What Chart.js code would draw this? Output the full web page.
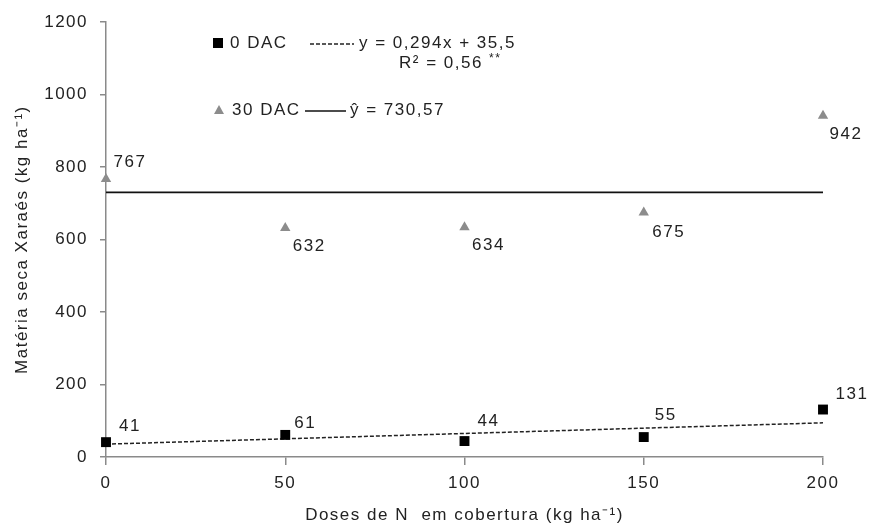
<!DOCTYPE html>
<html>
<head>
<meta charset="utf-8">
<script src="https://cdn.jsdelivr.net/npm/chart.js@4.4.0/dist/chart.umd.min.js"></script>
<style>
  html, body { margin: 0; padding: 0; background: #fff; }
  #wrap { width: 869px; height: 526px; }
</style>
</head>
<body>
<div id="wrap"><canvas id="chart" width="869" height="526"></canvas></div>
<script>
// doses of N (kg/ha)
const doses = [0, 50, 100, 150, 200];
const dac0 = [41, 61, 44, 55, 131];
const dac30 = [767, 632, 634, 675, 942];
// fitted lines, read at the ends of the x range
const trendX = [0, 200];
const trend0 = [35.5, 94.3];
const mean30 = [730.57, 730.57];
const yTicks = [0, 200, 400, 600, 800, 1000, 1200];

const FONT = 'Liberation Sans, Arial, sans-serif';
const TXT = '#222';
const SPACING = '1.5px';

function pts(xs, ys) {
    return xs.map((x, i) => ({ x: x, y: ys[i] }));
}

// label offsets (px) relative to each point
const off0 = [[24, -16], [20, -12], [24, -20], [22, -22], [29, -15]];
const off30 = [[24, -17], [24, 18], [24, 18], [25, 20], [23, 19]];

const spacingPlugin = {
    id: 'spacing',
    beforeLayout(chart) { chart.ctx.letterSpacing = SPACING; },
    beforeDraw(chart) { chart.ctx.letterSpacing = SPACING; }
};

const labelsPlugin = {
    id: 'extras',
    afterDraw(chart) {
        const ctx = chart.ctx;
        const xs = chart.scales.x, ys = chart.scales.y;
        ctx.save();
        ctx.letterSpacing = SPACING;
        ctx.font = '17px ' + FONT;
        ctx.fillStyle = TXT;
        ctx.textBaseline = 'middle';
        ctx.textAlign = 'center';
        doses.forEach((d, i) => {
            const px = xs.getPixelForValue(d);
            ctx.fillText(String(dac0[i]), px + off0[i][0], ys.getPixelForValue(dac0[i]) + off0[i][1]);
            ctx.fillText(String(dac30[i]), px + off30[i][0], ys.getPixelForValue(dac30[i]) + off30[i][1]);
        });

        // legend block
        ctx.textAlign = 'left';
        ctx.fillStyle = '#000';
        ctx.fillRect(213, 38, 10, 10);
        ctx.fillStyle = TXT;
        ctx.fillText('0 DAC', 230, 43);
        ctx.strokeStyle = '#222';
        ctx.lineWidth = 1.5;
        ctx.setLineDash([4, 2]);
        ctx.beginPath(); ctx.moveTo(310, 44); ctx.lineTo(354, 44); ctx.stroke();
        ctx.setLineDash([]);
        ctx.fillText('y = 0,294x + 35,5', 359, 43);
        ctx.fillText('R² = 0,56', 399, 63);
        ctx.font = '12px ' + FONT;
        ctx.fillText('**', 489, 59);

        ctx.font = '17px ' + FONT;
        ctx.fillStyle = '#8c8c8c';
        ctx.beginPath();
        ctx.moveTo(219, 105); ctx.lineTo(224, 114); ctx.lineTo(214, 114); ctx.closePath();
        ctx.fill();
        ctx.fillStyle = TXT;
        ctx.fillText('30 DAC', 232, 110);
        ctx.strokeStyle = '#111';
        ctx.beginPath(); ctx.moveTo(305, 111); ctx.lineTo(346, 111); ctx.stroke();
        ctx.fillText('ŷ = 730,57', 350, 110);
        ctx.restore();
    }
};

const ctx = document.getElementById('chart').getContext('2d');
const chart = new Chart(ctx, {
    type: 'scatter',
    data: {
        datasets: [
            {
                label: '0 DAC',
                data: pts(doses, dac0),
                pointStyle: 'rect',
                pointRadius: 7,
                backgroundColor: '#000',
                borderColor: '#000',
                borderWidth: 0,
                clip: false,
                order: 1
            },
            {
                label: '30 DAC',
                data: pts(doses, dac30),
                pointStyle: 'triangle',
                pointRadius: 6,
                backgroundColor: '#8c8c8c',
                borderColor: '#8c8c8c',
                borderWidth: 0,
                clip: false,
                order: 1
            },
            {
                label: 'trend 0 DAC',
                type: 'line',
                data: pts(trendX, trend0),
                borderColor: '#222',
                borderWidth: 1.5,
                borderDash: [4, 2],
                pointRadius: 0,
                fill: false,
                order: 2
            },
            {
                label: 'mean 30 DAC',
                type: 'line',
                data: pts(trendX, mean30),
                borderColor: '#111',
                borderWidth: 1.8,
                pointRadius: 0,
                fill: false,
                order: 2
            }
        ]
    },
    options: {
        responsive: false,
        animation: false,
        events: [],
        layout: { padding: { top: 20, right: 46, left: 0, bottom: 0 } },
        plugins: {
            legend: { display: false },
            tooltip: { enabled: false }
        },
        scales: {
            x: {
                type: 'linear',
                min: 0,
                max: 200,
                border: { color: '#8a8a8a', width: 1.5 },
                grid: { drawOnChartArea: false, drawTicks: true, tickLength: 8, color: '#8a8a8a', lineWidth: 1.5 },
                ticks: { stepSize: 50, padding: 8, color: TXT, font: { family: FONT, size: 17 } },
                title: {
                    display: true,
                    text: 'Doses de N  em cobertura (kg ha⁻¹)',
                    color: TXT,
                    font: { family: FONT, size: 17 },
                    padding: { top: 4, bottom: 0 }
                },
                afterFit(s) { s.height = 69; }
            },
            y: {
                min: 0,
                max: 1200,
                border: { color: '#8a8a8a', width: 1.5 },
                grid: { drawOnChartArea: false, drawTicks: true, tickLength: 6, color: '#8a8a8a', lineWidth: 1.5 },
                afterBuildTicks(s) { s.ticks = yTicks.map(v => ({ value: v })); },
                ticks: { padding: 12, color: TXT, font: { family: FONT, size: 17 }, callback: v => String(v) },
                title: {
                    display: true,
                    text: 'Matéria seca Xaraés (kg ha⁻¹)',
                    color: TXT,
                    font: { family: FONT, size: 17 },
                    padding: { top: 12, bottom: 0 }
                },
                afterFit(s) { s.width = 106; }
            }
        }
    },
    plugins: [spacingPlugin, labelsPlugin]
});
</script>
</body>
</html>
